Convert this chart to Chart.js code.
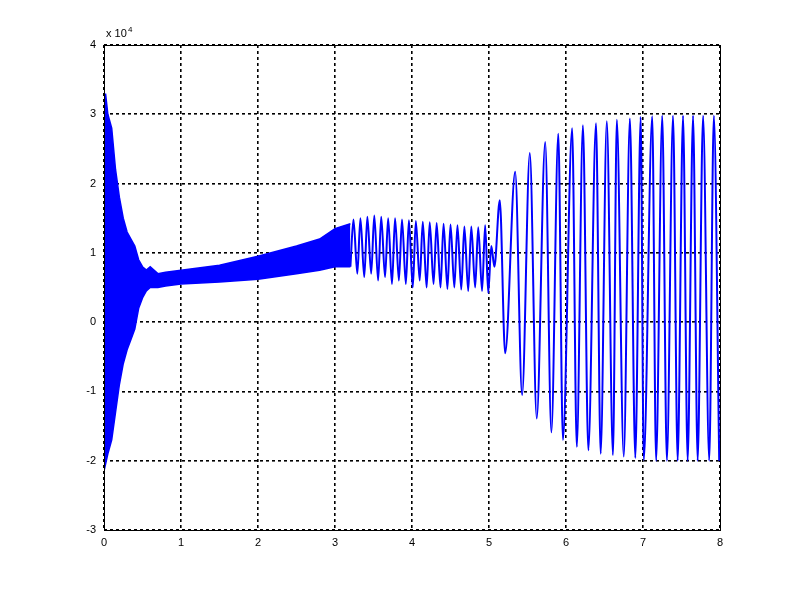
<!DOCTYPE html><html><head><script src="https://cdn.jsdelivr.net/npm/chart.js@4"></script>
<style>body{margin:0;background:#fff}#w{width:800px;height:600px}</style></head><body><div id="w"><canvas id="c"></canvas></div>
<script>
// values in units of 1e4
const bandX = [0.00,0.02,0.05,0.10,0.15,0.20,0.25,0.30,0.35,0.40,0.45,0.50,0.55,0.60,0.70,0.80,1.00,1.50,2.00,2.50,2.80,3.00,3.20];
const bandUp = [1.0,3.3,3.0,2.8,2.2,1.8,1.5,1.3,1.2,1.1,0.9,0.8,0.75,0.8,0.7,0.72,0.75,0.82,0.95,1.1,1.2,1.35,1.42];
const bandLo = [0.0,-2.05,-1.9,-1.7,-1.3,-0.9,-0.6,-0.4,-0.25,-0.1,0.2,0.35,0.45,0.5,0.5,0.52,0.55,0.58,0.62,0.7,0.75,0.8,0.8];
const waveX = [3.20,3.24,3.29,3.33,3.38,3.42,3.47,3.51,3.56,3.60,3.65,3.69,3.74,3.78,3.83,3.87,3.92,3.96,4.01,4.05,4.10,4.14,4.19,4.23,4.28,4.32,4.37,4.41,4.46,4.50,4.55,4.59,4.64,4.68,4.73,4.77,4.82,4.86,4.91,4.95,4.99,5.03,5.07,5.14,5.21,5.34,5.43,5.53,5.62,5.73,5.81,5.90,5.96,6.08,6.14,6.22,6.29,6.39,6.45,6.53,6.61,6.66,6.75,6.83,6.90,6.97,7.01,7.12,7.17,7.25,7.31,7.39,7.45,7.52,7.58,7.65,7.71,7.78,7.86,7.92,7.99];
const waveY = [0.8,1.48,0.7,1.5,0.65,1.52,0.7,1.54,0.6,1.52,0.65,1.5,0.55,1.5,0.6,1.48,0.55,1.47,0.5,1.46,0.6,1.45,0.5,1.44,0.55,1.43,0.5,1.42,0.48,1.41,0.5,1.4,0.47,1.38,0.45,1.38,0.5,1.37,0.45,1.4,0.42,1.1,0.8,1.76,-0.45,2.17,-1.05,2.44,-1.39,2.6,-1.59,2.72,-1.7,2.8,-1.8,2.84,-1.85,2.87,-1.9,2.9,-1.92,2.92,-1.94,2.94,-1.96,2.96,-1.99,2.97,-2.0,2.98,-2.0,2.98,-2.0,2.98,-2.0,2.98,-2.0,2.98,-2.0,2.98,-2.0];
const xTicks=[0,1,2,3,4,5,6,7,8];
const yTicks=[-3,-2,-1,0,1,2,3,4];
const blue='#0000ff';
const pts=(xs,ys)=>xs.map((x,i)=>({x,y:ys[i]}));
const frame={id:'frame',afterDraw(c){const a=c.chartArea,g=c.ctx;g.save();g.strokeStyle='#000';g.lineWidth=1;g.strokeRect(a.left+0.5,a.top+0.5,a.width,a.height);
g.font='11px "Liberation Sans"';g.fillStyle='#000';g.fillText('x 10',a.left+2,a.top-8);g.font='8px "Liberation Sans"';g.fillText('4',a.left+24,a.top-13);g.restore();}};
new Chart(document.getElementById('c'),{type:'scatter',data:{datasets:[
{data:pts(bandX,bandUp),showLine:true,borderColor:blue,borderWidth:1.5,pointRadius:0,tension:0},
{data:pts(bandX,bandLo),showLine:true,borderColor:blue,backgroundColor:blue,fill:'-1',borderWidth:1.5,pointRadius:0,tension:0},
{data:pts(waveX,waveY),showLine:true,borderColor:blue,borderWidth:2,pointRadius:0,cubicInterpolationMode:'monotone'}
]},options:{responsive:true,maintainAspectRatio:false,animation:false,layout:{padding:{top:45,right:80,left:0,bottom:0}},
plugins:{legend:{display:false},tooltip:{enabled:false}},
scales:{x:{type:'linear',min:0,max:8,afterBuildTicks(s){s.ticks=xTicks.map(v=>({value:v}));},afterFit(s){s.height=70;},
grid:{color:'#000',drawTicks:false,lineWidth:1.6},border:{display:false,dash:[3,3]},ticks:{color:'#000',padding:6,font:{family:'Liberation Sans',size:11}}},
y:{min:-3,max:4,afterBuildTicks(s){s.ticks=yTicks.map(v=>({value:v}));},afterFit(s){s.width=104;},
grid:{color:'#000',drawTicks:false,lineWidth:1.6},border:{display:false,dash:[3,3]},ticks:{color:'#000',padding:8,font:{family:'Liberation Sans',size:11}}}}},plugins:[frame]});
</script></body></html>
